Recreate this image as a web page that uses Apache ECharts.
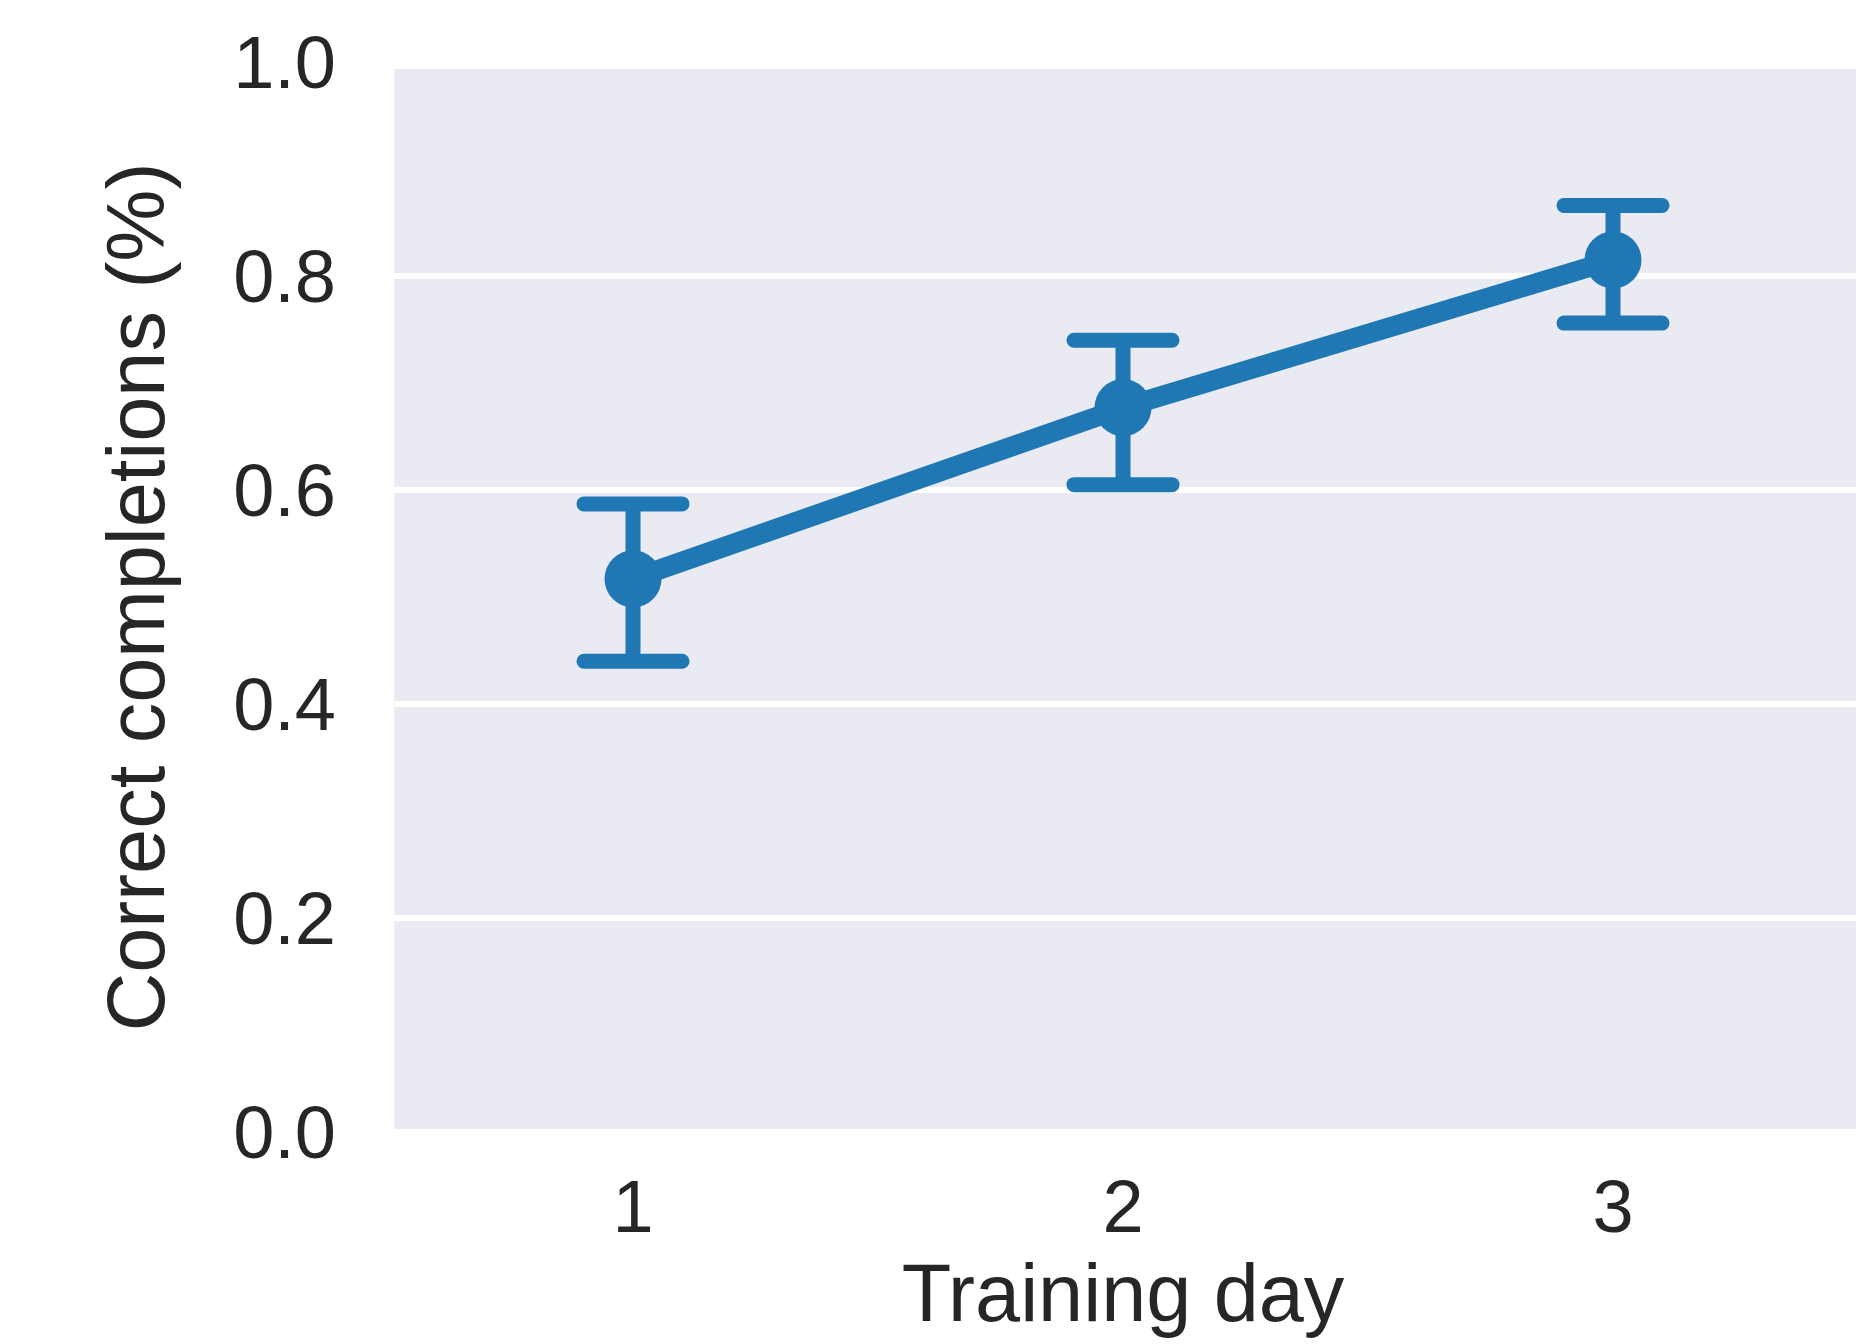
<!DOCTYPE html>
<html>
<head>
<meta charset="utf-8">
<script src="https://cdn.jsdelivr.net/npm/echarts@6/dist/echarts.min.js"></script>
<style>
html,body{margin:0;padding:0;background:#fff;}
#chart{width:1866px;height:1344px;}
</style>
</head>
<body>
<div id="chart"></div>
<script>
const days = ['1', '2', '3'];
const meanValues = [0.517, 0.677, 0.815];
const lowerCI = [0.440, 0.605, 0.756];
const upperCI = [0.587, 0.740, 0.866];
const yTicks = [0, 0.2, 0.4, 0.6, 0.8, 1.0];

const COLOR = '#1f77b4';
const TEXT = '#262626';
const FONT = '"Liberation Sans", Arial, sans-serif';

const errData = days.map((d, i) => [i, lowerCI[i], upperCI[i]]);

const chart = echarts.init(document.getElementById('chart'), null, {renderer: 'canvas'});
chart.setOption({
  animation: false,
  backgroundColor: '#ffffff',
  graphic: [{
    type: 'rect', z: -100, silent: true,
    shape: {x: 394, y: 69, width: 1462, height: 1064},
    style: {fill: '#EAEAF2'}
  }],
  grid: {left: 388, right: 8, top: 62, bottom: 206, containLabel: false, show: false},
  xAxis: {
    type: 'category',
    data: days,
    boundaryGap: true,
    axisLine: {show: false},
    axisTick: {show: false},
    splitLine: {show: false},
    axisLabel: {color: TEXT, fontSize: 74, fontFamily: FONT, margin: 43},
    name: 'Training day',
    nameLocation: 'middle',
    nameGap: 126,
    nameTextStyle: {color: TEXT, fontSize: 81, fontFamily: FONT}
  },
  yAxis: {
    type: 'value',
    min: yTicks[0],
    max: yTicks[yTicks.length - 1],
    interval: 0.2,
    axisLine: {show: false},
    axisTick: {show: false},
    splitLine: {show: true, lineStyle: {color: '#ffffff', width: 6}},
    axisLabel: {color: TEXT, fontSize: 74, fontFamily: FONT, margin: 52,
                formatter: v => '{t|' + v.toFixed(1) + '}',
                rich: {t: {color: TEXT, fontSize: 74, fontFamily: FONT, padding: [12, 0, 0, 0]}}},
    name: 'Correct completions (%)',
    nameLocation: 'middle',
    nameGap: 206,
    nameTextStyle: {color: TEXT, fontSize: 81, fontFamily: FONT}
  },
  series: [
    {
      type: 'custom',
      data: errData,
      z: 3,
      renderItem: function (params, api) {
        const x = api.value(0);
        const lo = api.coord([x, api.value(1)]);
        const hi = api.coord([x, api.value(2)]);
        const hw = 49;
        const style = {stroke: COLOR, lineWidth: 15, lineCap: 'round'};
        return {
          type: 'group',
          children: [
            {type: 'line', shape: {x1: lo[0], y1: lo[1], x2: hi[0], y2: hi[1]},
             style: {stroke: COLOR, lineWidth: 15, lineCap: 'butt'}},
            {type: 'line', shape: {x1: lo[0] - hw, y1: lo[1], x2: lo[0] + hw, y2: lo[1]}, style: style},
            {type: 'line', shape: {x1: hi[0] - hw, y1: hi[1], x2: hi[0] + hw, y2: hi[1]}, style: style}
          ]
        };
      }
    },
    {
      type: 'line',
      data: meanValues,
      z: 4,
      symbol: 'circle',
      symbolSize: 57,
      lineStyle: {color: COLOR, width: 20},
      itemStyle: {color: COLOR},
      emphasis: {disabled: true}
    }
  ]
});
</script>
</body>
</html>
